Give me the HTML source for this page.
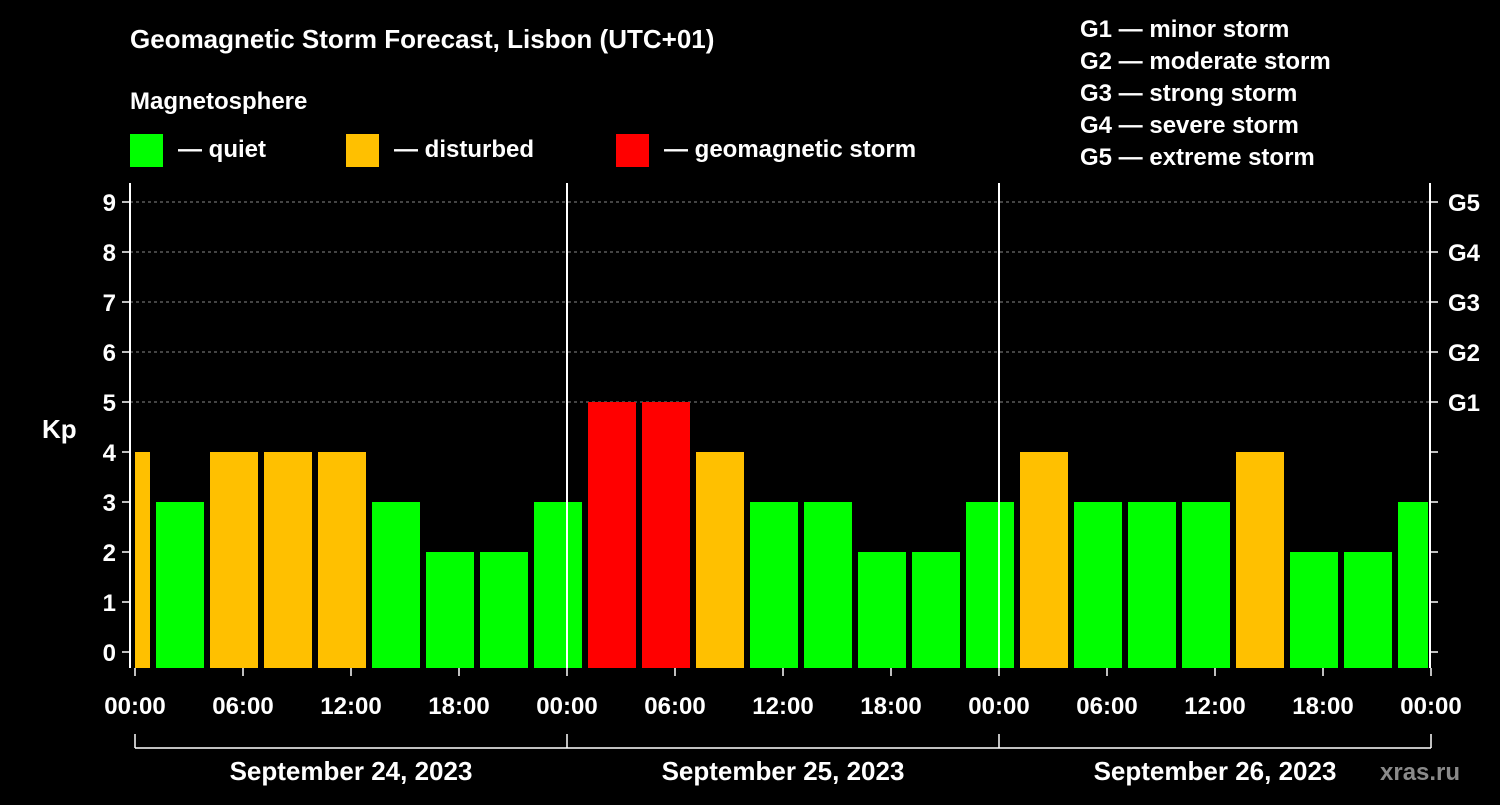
<!DOCTYPE html>
<html><head><meta charset="utf-8"><style>
body{margin:0;background:#000;width:1500px;height:800px;overflow:hidden}
svg text{font-family:"Liberation Sans",sans-serif;font-weight:bold;fill:#fff}
</style></head><body>
<svg id="c" width="1500" height="800">
<text x="130" y="48" font-size="26">Geomagnetic Storm Forecast, Lisbon (UTC+01)</text>
<text x="130" y="109" font-size="24">Magnetosphere</text>
<rect x="130" y="134" width="33" height="33" fill="#00ff00"/>
<text x="178" y="157" font-size="24">— quiet</text>
<rect x="346" y="134" width="33" height="33" fill="#ffc000"/>
<text x="394" y="157" font-size="24">— disturbed</text>
<rect x="616" y="134" width="33" height="33" fill="#ff0000"/>
<text x="664" y="157" font-size="24">— geomagnetic storm</text>
<g font-size="24">
<text x="1080" y="37">G1 — minor storm</text>
<text x="1080" y="69">G2 — moderate storm</text>
<text x="1080" y="101">G3 — strong storm</text>
<text x="1080" y="133">G4 — severe storm</text>
<text x="1080" y="165">G5 — extreme storm</text>
</g>
<text x="42" y="438" font-size="26">Kp</text>
<text x="1380" y="780" font-size="24" fill="#888" style="fill:#8a8a8a">xras.ru</text>
<g id="plot"></g>
</svg>
<script>
const kpValues=[4,3,4,4,4,3,2,2,3,5,5,4,3,3,2,2,3,4,3,3,3,4,2,2,3];
const yTicks=[0,1,2,3,4,5,6,7,8,9];
const gLabels=["G1","G2","G3","G4","G5"];
const timeLabels=["00:00","06:00","12:00","18:00"];
const dayLabels=["September 24, 2023","September 25, 2023","September 26, 2023"];
const X0=135,PXH=18,L=130,R=1430,T=183,B=668;
const x=h=>X0+h*PXH;
const y=v=>652-50*v;
const ns="http://www.w3.org/2000/svg";
const g=document.getElementById('plot');
function mk(t,a){const e=document.createElementNS(ns,t);for(const k in a)e.setAttribute(k,a[k]);g.appendChild(e);return e;}
// grid
[5,6,7,8,9].forEach(v=>{const e=mk('line',{x1:L,x2:R,y1:y(v),y2:y(v),stroke:'#888','stroke-dasharray':'3,3','stroke-width':1});

});
// bars
kpValues.forEach((v,i)=>{
 let h0=-2+3*i,h1=h0+3;
 let x0=Math.max(x(h0)+3,X0),x1=Math.min(x(h1)-3,R-2);
 const col=v>=5?'#ff0000':(v>=4?'#ffc000':'#00ff00');
 const e=mk('rect',{x:x0,y:y(v),width:x1-x0,height:B-y(v),fill:col});
 
 
});
// frame
mk('line',{x1:L,x2:L,y1:T,y2:B,stroke:'#fff','stroke-width':2});
mk('line',{x1:R,x2:R,y1:T,y2:B,stroke:'#fff','stroke-width':2});
[1,2].forEach(d=>mk('line',{x1:x(24*d),x2:x(24*d),y1:T,y2:B,stroke:'#fff','stroke-width':2}));
// y ticks
yTicks.forEach(v=>{
 mk('line',{x1:L-8,x2:L,y1:y(v),y2:y(v),stroke:'#fff','stroke-width':1.5});
 mk('line',{x1:R,x2:R+8,y1:y(v),y2:y(v),stroke:'#fff','stroke-width':1.5});
 const t=mk('text',{x:L-14,y:y(v)+9,'text-anchor':'end','font-size':24});t.textContent=v;
 
 
});
gLabels.forEach((s,i)=>{const t=mk('text',{x:R+18,y:y(5+i)+9,'font-size':24});t.textContent=s;
 
 });
// x ticks
for(let d=0;d<3;d++){timeLabels.forEach((s,j)=>{const h=d*24+j*6;
 mk('line',{x1:x(h),x2:x(h),y1:B,y2:B+8,stroke:'#fff','stroke-width':1.5});
 const t=mk('text',{x:x(h),y:714,'text-anchor':'middle','font-size':24});t.textContent=s;
 
 });
 const t=mk('text',{x:x(d*24+12),y:780,'text-anchor':'middle','font-size':26});t.textContent=dayLabels[d];
 
 
}
mk('line',{x1:x(72),x2:x(72),y1:B,y2:B+8,stroke:'#fff','stroke-width':1.5});
const tl=mk('text',{x:x(72),y:714,'text-anchor':'middle','font-size':24});tl.textContent="00:00";


mk('line',{x1:x(0),x2:x(72),y1:748,y2:748,stroke:'#fff','stroke-width':1.5});
[0,24,48,72].forEach(h=>mk('line',{x1:x(h),x2:x(h),y1:734,y2:748,stroke:'#fff','stroke-width':1.5}));
</script>
</body></html>
